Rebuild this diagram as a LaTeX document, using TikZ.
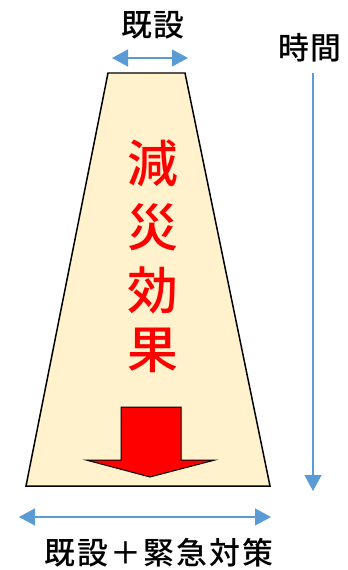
\documentclass[tikz,border=0pt]{standalone}
\usepackage{fontspec}
\newfontfamily\cjk{Noto Sans CJK JP Medium}
\usetikzlibrary{arrows.meta}
\definecolor{beige}{HTML}{FFF2CC}
\definecolor{ablue}{HTML}{5B9BD5}
\tikzset{
  barrow/.style={draw=ablue, line width=1.3pt, {Triangle[length=16bp,width=17bp]}-{Triangle[length=16bp,width=17bp]}},
  tarrow/.style={draw=ablue, line width=1.3pt, -{Triangle[length=16bp,width=17bp]}},
  lbl/.style={font=\cjk\fontsize{31}{36}\selectfont, text=black, inner sep=0pt},
  redlbl/.style={font=\cjk\fontsize{51}{56}\selectfont, text=red, inner sep=0pt}
}
\begin{document}
\begin{tikzpicture}[x=1bp,y=-1bp]
\useasboundingbox (0,0) rectangle (347,570);
\draw[fill=beige, line width=1.5pt, line join=miter] (108,73) -- (185,73) -- (270,486) -- (26,486) -- cycle;
\node[lbl] (kisetsu) at (153,25) {既\hspace{1bp}設};
\coordinate (ta) at (112,58);
\coordinate (tb) at (188,58);
\draw[barrow] (ta) -- (tb);
\node[lbl] (jikan) at (310,48) {時\hspace{1bp}間};
\coordinate (ja) at (313,73);
\coordinate (jb) at (313,491);
\draw[tarrow] (ja) -- (jb);
\coordinate (ba) at (19,517);
\coordinate (bb) at (271,517);
\draw[barrow] (ba) -- (bb);
\node[lbl] (bottom) at (159,553) {既\hspace{2bp}設\hspace{2bp}＋\hspace{2bp}緊\hspace{2bp}急\hspace{2bp}対\hspace{2bp}策};
\node[redlbl] (c1) at (153,163) {減};
\node[redlbl] (c2) at (153,227) {災};
\node[redlbl] (c3) at (153,290) {効};
\node[redlbl] (c4) at (153,350) {果};
\draw[fill=red, line width=1pt, line join=miter] (121,407) -- (181,407) -- (181,460) -- (215,460) -- (150,477) -- (86,460) -- (121,460) -- cycle;
\end{tikzpicture}
\end{document}
